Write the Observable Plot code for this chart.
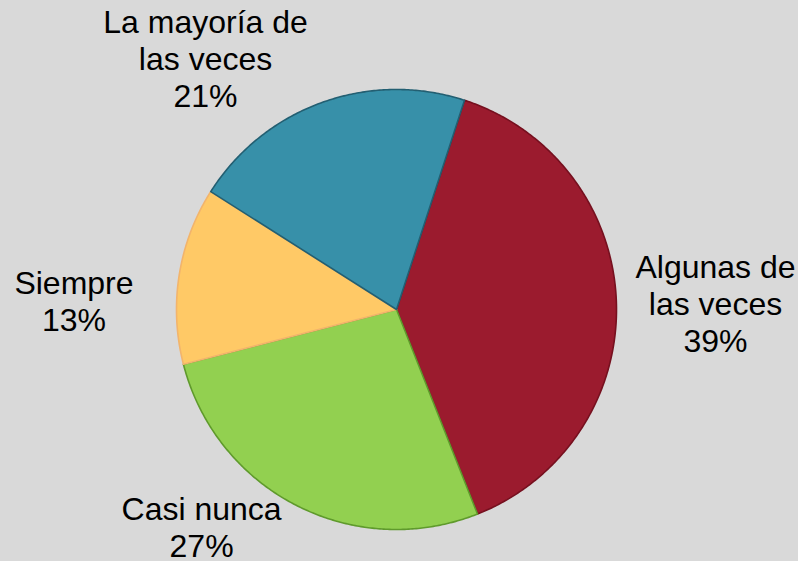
<!DOCTYPE html>
<html>
<head>
<meta charset="utf-8">
<script src="https://cdn.jsdelivr.net/npm/d3@7"></script>
<script src="https://cdn.jsdelivr.net/npm/@observablehq/plot@0.6"></script>
<style>
  html, body { margin: 0; padding: 0; background: #d9d9d9; }
  #chart { width: 798px; height: 561px; }
</style>
</head>
<body>
<div id="chart"></div>
<script>
// ---- data ----
const categories = ["Algunas de las veces", "Casi nunca", "Siempre", "La mayoría de las veces"];
const labels = ["Algunas de\nlas veces", "Casi nunca", "Siempre", "La mayoría de\nlas veces"];
const percents = [39, 27, 13, 21];

// ---- styles / layout ----
const fills   = ["#9b1b2e", "#92d050", "#ffc966", "#3790a9"];
const strokes = ["#76101f", "#5f9a2c", "#f2b46c", "#235f72"];
const startDeg = 18;               // clockwise from 12 o'clock
const labelAt = [[1.45, 0.027], [-0.886, -0.988], [-1.466, 0.041], [-0.868, 1.141]]; // in radius units

// ---- geometry through d3.pie ----
const pie = d3.pie().sort(null).value(d => d.value)
  .startAngle(startDeg * Math.PI / 180)
  .endAngle((startDeg + 360) * Math.PI / 180);
const rows = categories.map((c, i) => ({cat: c, value: percents[i], fill: fills[i], stroke: strokes[i], i}));
const arcs = pie(rows);

const pts = [];
for (const a of arcs) {
  const n = Math.max(2, Math.ceil((a.endAngle - a.startAngle) / (Math.PI / 360)));
  pts.push({cat: a.data.cat, fill: a.data.fill, stroke: a.data.stroke, x: 0, y: 0});
  for (let k = 0; k <= n; k++) {
    const t = a.startAngle + (a.endAngle - a.startAngle) * k / n;
    pts.push({cat: a.data.cat, fill: a.data.fill, stroke: a.data.stroke, x: Math.sin(t), y: Math.cos(t)});
  }
  pts.push({cat: a.data.cat, fill: a.data.fill, stroke: a.data.stroke, x: 0, y: 0});
}

const textRows = rows.map((r, i) => ({
  text: `${labels[i]}\n${r.value}%`,
  x: labelAt[i][0],
  y: labelAt[i][1]
}));

const cx = 396, cy = 309, R = 220;
const plot = Plot.plot({
  width: 798,
  height: 561,
  margin: 0,
  style: {background: "#d9d9d9", fontFamily: "'Liberation Sans', Arial, sans-serif", color: "#000"},
  x: {domain: [-1, 1], range: [cx - R, cx + R], axis: null},
  y: {domain: [-1, 1], range: [cy + R, cy - R], axis: null},
  color: {type: "identity"},
  marks: [
    Plot.line(pts, {x: "x", y: "y", z: "cat", fill: "fill", stroke: "stroke", strokeWidth: 1.6, strokeLinejoin: "round", curve: "linear"}),
    Plot.text(textRows, {x: "x", y: "y", text: "text", fontSize: 32, lineHeight: 1.156, fill: "#000", textAnchor: "middle"})
  ]
});
document.getElementById("chart").appendChild(plot);
</script>
</body>
</html>
